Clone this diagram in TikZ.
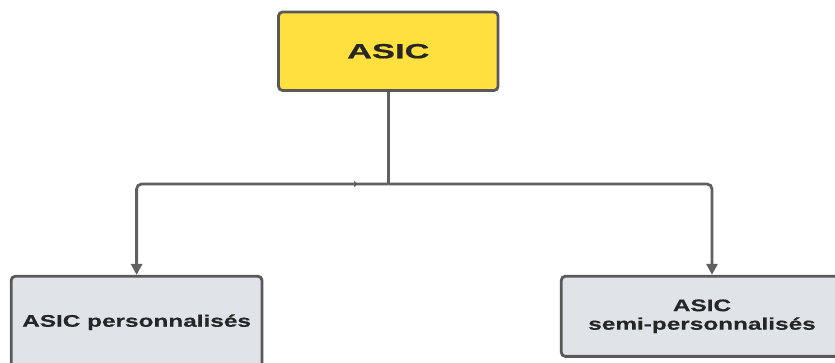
\documentclass[tikz,border=0pt]{standalone}
\usepackage{fontspec}
\setmainfont{Liberation Sans}
\newfontfamily\titlefont[FakeStretch=1.68,FakeBold=0.6]{Liberation Sans}
\newfontfamily\labelfont[FakeStretch=1.45,FakeBold=0.4]{Liberation Sans}
\usetikzlibrary{arrows.meta}

\definecolor{asicyellow}{HTML}{FFE03F}
\definecolor{boxgray}{HTML}{E0E3E8}
\definecolor{edgegray}{HTML}{595959}
\definecolor{linegray}{HTML}{606060}
\definecolor{textdark}{HTML}{262626}

\begin{document}
\begin{tikzpicture}[x=1pt, y=-1pt,
    box/.style={draw=edgegray, line width=2.8pt, rounded corners=4pt,
      inner sep=0pt, align=center, text=textdark},
    link/.style={draw=linegray, line width=2.8pt},
    flow/.style={link, rounded corners=5pt,
      -{Triangle[length=11pt, width=11pt]}},
    tick/.style={draw=linegray, line width=0.6pt,
      -{Triangle[length=4pt, width=6pt]}}]
            \useasboundingbox (0,0) rectangle (835,362);

            % Top block
            \node[box, fill=asicyellow, minimum width=219.5pt, minimum height=78.5pt,
              font=\titlefont\bfseries\fontsize{20.5}{24}\selectfont]
              (asic) at (388.3,51.2) {ASIC};

            % The two kinds below
            \node[box, fill=boxgray, minimum width=250.8pt, minimum height=92pt,
              font=\labelfont\bfseries\fontsize{16.8}{18.5}\selectfont]
              (custom) at (136.6,322.3) {\raisebox{3pt}{ASIC personnalisés}};
            \node[box, fill=boxgray, minimum width=281.4pt, minimum height=80.1pt,
              font=\labelfont\bfseries\fontsize{16.8}{18.5}\selectfont]
              (semi) at (702,316.3) {ASIC\\semi-personnalisés};

            % Stem and branches
            \coordinate (split) at (388.3,184);
            \coordinate (mark) at (358,184);
            \draw[link] (asic.south) -- (split);
            \draw[flow] (split) -| (custom.north);
            \draw[flow] (split) -| ([xshift=10pt]semi.north);
            \draw[tick] ([xshift=-4pt]mark) -- (mark);
        \end{tikzpicture}
\end{document}
